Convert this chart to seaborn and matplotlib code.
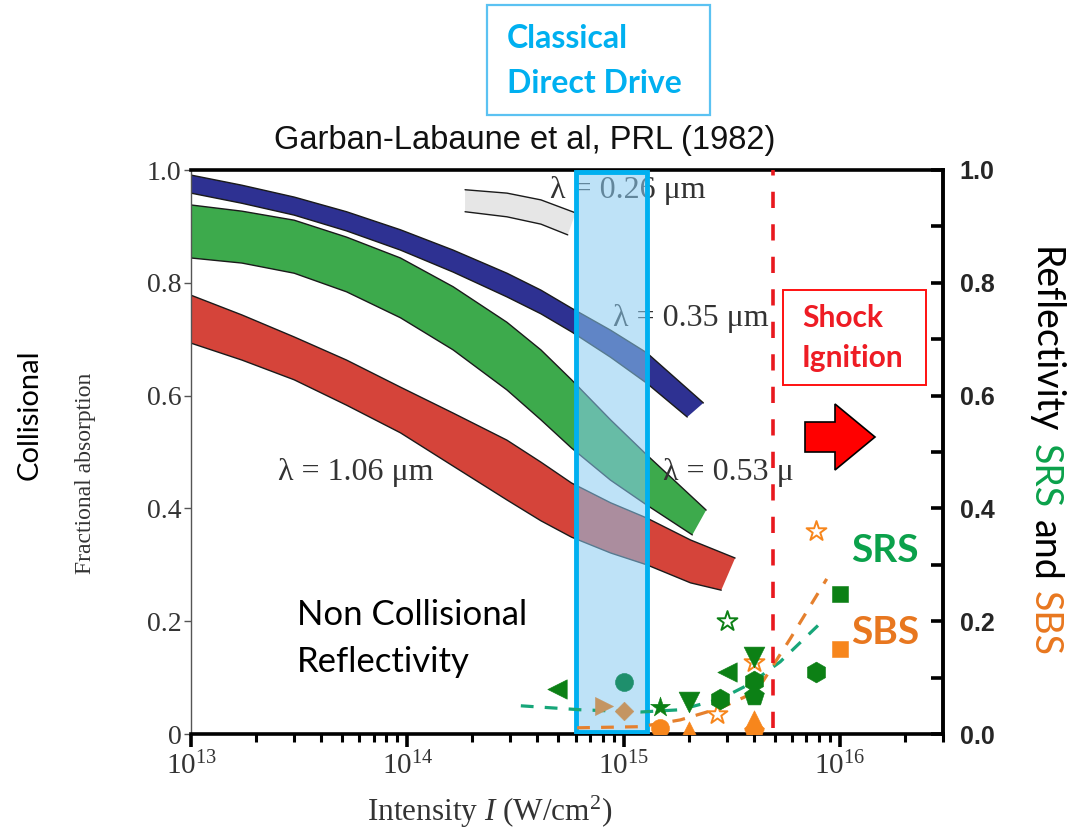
import matplotlib
matplotlib.use("Agg")
import matplotlib.pyplot as plt
import matplotlib.patches as mpatches
from matplotlib.ticker import LogLocator, NullFormatter, MultipleLocator, FuncFormatter
import numpy as np
import pandas as pd
import seaborn as sns

sns.set_theme(style="white")
plt.rcParams["font.family"] = ["Liberation Serif", "DejaVu Serif"]
plt.rcParams["mathtext.fontset"] = "custom"
plt.rcParams["mathtext.rm"] = "Liberation Serif"
plt.rcParams["mathtext.it"] = "Liberation Serif:italic"
plt.rcParams["mathtext.bf"] = "Liberation Serif:bold"

# ---- collisional absorption bands (intensity W/cm^2 -> fractional absorption)
band_I = [1.0e13, 1.72e13, 3.0e13, 5.24e13, 9.3e13, 1.63e14, 2.89e14, 4.15e14,
          5.75e14, 8.71e14, 1.28e15]

i_026_top = [1.85e14, 2.89e14, 4.15e14, 6.0e14]
a_026_top = [0.965, 0.959, 0.947, 0.924]
i_026_bot = [1.85e14, 2.89e14, 4.15e14, 5.52e14]
a_026_bot = [0.926, 0.917, 0.904, 0.885]

i_035_top = band_I + [2.34e15]
a_035_top = [0.991, 0.973, 0.952, 0.926, 0.894, 0.858, 0.817, 0.787, 0.755, 0.716, 0.676, 0.587]
i_035_bot = band_I + [1.97e15]
a_035_bot = [0.959, 0.941, 0.920, 0.892, 0.858, 0.819, 0.775, 0.745, 0.713, 0.668, 0.622, 0.562]

i_053_top = band_I + [2.41e15]
a_053_top = [0.938, 0.927, 0.911, 0.881, 0.844, 0.793, 0.730, 0.681, 0.628, 0.557, 0.495, 0.397]
i_053_bot = band_I + [2.08e15]
a_053_bot = [0.844, 0.835, 0.817, 0.784, 0.738, 0.681, 0.610, 0.557, 0.507, 0.450, 0.406, 0.353]

i_106_top = band_I + [2.04e15, 3.28e15]
a_106_top = [0.778, 0.743, 0.704, 0.663, 0.615, 0.569, 0.521, 0.482, 0.445, 0.410, 0.383, 0.344, 0.312]
i_106_bot = band_I + [2.04e15, 2.83e15]
a_106_bot = [0.693, 0.663, 0.628, 0.583, 0.534, 0.475, 0.415, 0.378, 0.349, 0.321, 0.300, 0.268, 0.255]

# ---- SRS / SBS reflectivity trend lines
srs_fit_I = [3.35e14, 6.3e14, 1.2e15, 1.83e15, 2.8e15, 3.85e15, 5.3e15, 8.26e15]
srs_fit_R = [0.050, 0.043, 0.039, 0.043, 0.062, 0.089, 0.128, 0.199]
sbs_fit_I = [6.1e14, 1.2e15, 1.83e15, 2.8e15, 3.65e15, 4.42e15, 5.9e15, 8.7e15]
sbs_fit_R = [0.011, 0.013, 0.025, 0.046, 0.066, 0.094, 0.169, 0.275]

# ---- measured reflectivities
marker_I = [2.7e15, 4.0e15, 7.8e15, 1.0e16, 4.0e15, 4.0e15, 1.48e15, 2.0e15,
            8.1e14, 1.0e15,
            4.9e14, 3.0e15, 1.48e15, 2.0e15, 4.0e15, 2.8e15, 4.0e15, 7.8e15,
            4.0e15, 3.0e15, 1.0e16, 1.0e15]
marker_R = [0.036, 0.128, 0.360, 0.151, 0.025, 0.006, 0.010, 0.006,
            0.050, 0.041,
            0.080, 0.110, 0.048, 0.057, 0.137, 0.062, 0.094, 0.110,
            0.068, 0.200, 0.249, 0.092]
marker_shape = ["open*", "open*", "open*", "s", "^", "p", "o", "^",
                ">", "D",
                "<", "<", "*", "v", "v", "h", "h", "h",
                "p", "open*", "s", "o"]
marker_series = ["SBS"] * 8 + ["other"] * 2 + ["SRS"] * 11 + ["SRS ball"]

x_ticks = [1e13, 1e14, 1e15, 1e16]
left_ticks = [0, 0.2, 0.4, 0.6, 0.8, 1.0]
left_labels = ["0", "0.2", "0.4", "0.6", "0.8", "1.0"]
right_ticks = [0.0, 0.2, 0.4, 0.6, 0.8, 1.0]

SRS_C = "#0C8015"
SRS_TXT = "#0BA14B"
SBS_C = "#F7861C"
SBS_TXT = "#E8771F"
series_colors = {"SRS": SRS_C, "SRS ball": "#1E8F6C", "SBS": SBS_C, "other": "#C49562"}
marker_ms = {"<": 14, ">": 13, "^": 14, "v": 15, "o": 13, "h": 15, "p": 15,
             "s": 11, "D": 9.5, "*": 15}

W, H = 1077, 830
fig = plt.figure(figsize=(W / 100, H / 100), dpi=100, facecolor="white")
PX = fig.dpi_scale_trans


def P(x, y):
    """pixel position (from top-left) -> inches for dpi_scale_trans"""
    return x / 100, (H - y) / 100


ax = fig.add_axes([191 / W, 1 - 734 / H, (943 - 191) / W, (734 - 170) / H])
ax.set_xscale("log")
ax2 = ax.twinx()

# absorption bands
bands = [
    (i_026_top, a_026_top, i_026_bot, a_026_bot, "#E6E6E6"),
    (i_035_top, a_035_top, i_035_bot, a_035_bot, "#2E3192"),
    (i_053_top, a_053_top, i_053_bot, a_053_bot, "#3DAA4C"),
    (i_106_top, a_106_top, i_106_bot, a_106_bot, "#D5443A"),
]
for it, at, ib, ab, col in bands:
    xs = list(it) + list(ib)[::-1]
    ys = list(at) + list(ab)[::-1]
    ax.fill(xs, ys, facecolor=col, edgecolor="none", zorder=1)
    sns.lineplot(x=it, y=at, ax=ax, color="#1a1a1a", lw=1.0, zorder=1.5, sort=False)
    sns.lineplot(x=ib, y=ab, ax=ax, color="#1a1a1a", lw=1.0, zorder=1.5, sort=False)

# wavelength labels (below the highlighted span)
lam_kw = dict(transform=PX, fontsize=23, color="#333333", va="center", ha="left",
              zorder=2, family="Liberation Serif")
ax.text(*P(550, 190), "λ = 0.26 μm", **lam_kw)
ax.text(*P(613, 318), "λ = 0.35 μm", **lam_kw)
ax.text(*P(663, 472), "λ = 0.53 μ", **lam_kw)
ax.text(*P(278, 472), "λ = 1.06 μm", **lam_kw)

# classical direct drive intensity window
span_lo, span_hi = 6.0e14, 1.29e15
ax.axvspan(span_lo, span_hi, facecolor="#8ACBF2", alpha=0.55, edgecolor="none", zorder=3)
ax.axvspan(span_lo, span_hi, ymin=0.003, ymax=0.997, fill=False, edgecolor="#00B0F0",
           lw=3.5, zorder=4)

ax.set_xlim(1e13, 3.0e16)
ax.set_ylim(0, 1)
ax2.set_ylim(0, 1)

# trend lines
sns.lineplot(x=srs_fit_I, y=srs_fit_R, ax=ax2, color="#17A679", lw=2.3,
             linestyle=(0, (4, 3.5)), zorder=2, sort=False)
sns.lineplot(x=sbs_fit_I, y=sbs_fit_R, ax=ax2, color="#E5802E", lw=2.3,
             linestyle=(0, (4, 3.5)), zorder=2, sort=False)

# measured points
df = pd.DataFrame({"intensity": marker_I, "reflectivity": marker_R,
                   "shape": marker_shape, "series": marker_series})
for (series, shape), grp in df.groupby(["series", "shape"], sort=False):
    col = series_colors[series]
    hollow = shape.startswith("open")
    m = shape.replace("open", "")
    sns.scatterplot(data=grp, x="intensity", y="reflectivity", ax=ax2, marker=m,
                    s=marker_ms[m] ** 2, color=col,
                    facecolor="white" if hollow else col, edgecolor=col,
                    linewidth=1.4 if hollow else 0.4, zorder=3, legend=False)

# shock ignition threshold
ax2.axvline(4.9e15, ymin=0.01, ymax=1.0, color="#E8181E", lw=2.6,
            linestyle=(0, (4.5, 4.5)), zorder=4)

ax.set_xlim(1e13, 3.0e16)
ax2.set_ylim(0, 1)
ax.set_xlabel("")
ax.set_ylabel("")
ax2.set_xlabel("")
ax2.set_ylabel("")

# spines
for s in ["left", "top", "bottom"]:
    ax2.spines[s].set_visible(False)
ax.spines["right"].set_visible(False)
ax.spines["left"].set_color("#555555")
ax.spines["left"].set_linewidth(1.0)
for s in ["top", "bottom"]:
    ax.spines[s].set_color("black")
    ax.spines[s].set_linewidth(2.6)
ax2.spines["right"].set_color("black")
ax2.spines["right"].set_linewidth(2.8)

# x axis ticks
ax.xaxis.set_major_locator(LogLocator(base=10))
ax.xaxis.set_minor_locator(LogLocator(base=10, subs=np.arange(2, 10)))
ax.xaxis.set_minor_formatter(NullFormatter())
ax.set_xticks(x_ticks)
ax.xaxis.set_major_formatter(FuncFormatter(lambda v, p: r"$10^{%d}$" % round(np.log10(v))))
ax.tick_params(axis="x", which="major", direction="out", length=9, width=2.6,
               color="black", labelsize=21, pad=4, top=False, bottom=True)
ax.tick_params(axis="x", which="minor", direction="out", length=6, width=2.2,
               color="black", top=False, bottom=True)
for lab in ax.get_xticklabels():
    lab.set_family("Liberation Serif")
    lab.set_color("#333333")

# left axis
ax.set_yticks(left_ticks, left_labels)
ax.tick_params(axis="y", which="major", direction="out", length=5, width=1.0,
               color="#555555", labelsize=20, labelcolor="#333333", pad=2, left=True)
for lab in ax.get_yticklabels():
    lab.set_family("Liberation Serif")

# right axis
ax2.set_yticks(right_ticks)
ax2.yaxis.set_major_formatter(FuncFormatter(lambda v, p: f"{v:.1f}"))
ax2.yaxis.set_minor_locator(MultipleLocator(0.1))
ax2.tick_params(axis="y", which="both", direction="in", length=9, width=2.6,
                color="black", right=True, left=False)
ax2.tick_params(axis="y", which="major", labelsize=18, pad=12)
for lab in ax2.get_yticklabels():
    lab.set_family("Liberation Sans")
    lab.set_fontweight("bold")

# axis titles
fig.text(*P(490, 812), r"Intensity $I$ (W/cm$^2$)", transform=PX, ha="center",
         va="center", fontsize=22.5, color="#333333", family="Liberation Serif")
fig.text(*P(85, 473), "Fractional absorption", transform=PX, ha="center",
         va="center", rotation=90, fontsize=17, color="#333333",
         family="Liberation Serif")
fig.text(*P(30, 415), "Collisional", transform=PX, ha="center", va="center",
         rotation=90, fontsize=21, color="black", family="Lato")
fig.text(*P(525, 140), "Garban-Labaune et al, PRL (1982)", transform=PX,
         ha="center", va="center", fontsize=23.5, color="#111111",
         family="Liberation Sans")

# right axis title, coloured word by word
fig.canvas.draw()
renderer = fig.canvas.get_renderer()
y_cur = 247
for word, col in [("Reflectivity", "black"), ("SRS", SRS_TXT), ("and", "black"),
                  ("SBS", SBS_TXT)]:
    t = fig.text(*P(1045, y_cur), word, transform=PX, rotation=-90, ha="center",
                 va="top", fontsize=27, color=col, family="Lato")
    bb = t.get_window_extent(renderer)
    y_cur += bb.height + 11

# in-plot annotations
fig.text(*P(297, 615), "Non Collisional", transform=PX, ha="left", va="center",
         fontsize=25, color="black", family="Lato")
fig.text(*P(297, 662), "Reflectivity", transform=PX, ha="left", va="center",
         fontsize=25, color="black", family="Lato")
fig.text(*P(885, 550), "SRS", transform=PX, ha="center", va="center",
         fontsize=28, fontweight="bold", color=SRS_TXT, family="Lato")
fig.text(*P(885, 632), "SBS", transform=PX, ha="center", va="center",
         fontsize=28, fontweight="bold", color=SBS_TXT, family="Lato")

# "Classical Direct Drive" box
fig.add_artist(mpatches.Rectangle(P(487, 115), 2.23, 1.10, transform=PX,
                                  fill=False, edgecolor="#5BC2F2", lw=1.6))
fig.text(*P(507, 38), "Classical", transform=PX, ha="left", va="center",
         fontsize=23, fontweight="bold", color="#00B0F0", family="Lato")
fig.text(*P(507, 83), "Direct Drive", transform=PX, ha="left", va="center",
         fontsize=23, fontweight="bold", color="#00B0F0", family="Lato")

# "Shock Ignition" box and arrow
fig.add_artist(mpatches.Rectangle(P(783, 385), 1.43, 0.95, transform=PX,
                                  fill=False, edgecolor="#FF1010", lw=1.4))
fig.text(*P(802, 318), "Shock", transform=PX, ha="left", va="center",
         fontsize=21.5, fontweight="bold", color="#EE1C24", family="Lato")
fig.text(*P(802, 358), "Ignition", transform=PX, ha="left", va="center",
         fontsize=21.5, fontweight="bold", color="#EE1C24", family="Lato")
ax_tail = P(805, 437)
fig.add_artist(mpatches.FancyArrow(ax_tail[0], ax_tail[1], 0.70, 0.0, width=0.30,
                                   head_width=0.66, head_length=0.40,
                                   length_includes_head=True, transform=PX,
                                   facecolor="#FF0000", edgecolor="black", lw=1.2))

fig.savefig("out.png", dpi=100, facecolor="white")
